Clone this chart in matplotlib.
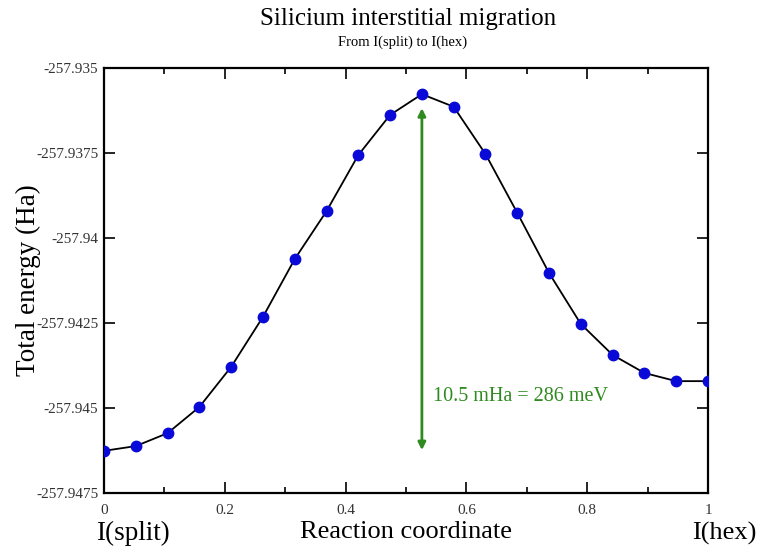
import numpy as np
import matplotlib
matplotlib.use("Agg")
from matplotlib import pyplot as plt
from matplotlib.ticker import MultipleLocator

# reaction path images, 20 points from I(split) to I(hex)
coord = np.arange(20) / 19.0
energy = [-257.94626, -257.94612, -257.94574, -257.94497, -257.94379,
          -257.94232, -257.94062, -257.93921, -257.93756, -257.93638,
          -257.93577, -257.93614, -257.93753, -257.93926, -257.94103,
          -257.94253, -257.94344, -257.94397, -257.94421, -257.94421]

yticks = [-257.9475, -257.945, -257.9425, -257.94, -257.9375, -257.935]
ytick_labels = ["-257.9475", "-257.945", "-257.9425", "-257.94", "-257.9375", "-257.935"]
xticks = [0, 0.2, 0.4, 0.6, 0.8, 1]
xtick_labels = ["0", "0.2", "0.4", "0.6", "0.8", "1"]

# barrier arrow
arrow_x = 10 / 19.0
arrow_top = -257.93618
arrow_bottom = -257.94624
barrier_text = "10.5 mHa = 286 meV"

plt.rcParams['font.family'] = ['Liberation Serif', 'DejaVu Serif']
green = '#2f8a1f'

fig = plt.figure(figsize=(7.61, 5.5), dpi=100)
ax = fig.add_axes([104/761, 57/550, 604/761, 425/550])

ax.plot(coord, energy, color='black', lw=1.3, marker='o', ms=7.5,
        mfc='#0a0ad8', mec='#0a0ad8', zorder=3)

ax.annotate('', xy=(arrow_x, arrow_bottom), xytext=(arrow_x, arrow_top),
            arrowprops=dict(arrowstyle='<|-|>', color=green, lw=2,
                            mutation_scale=11, shrinkA=0, shrinkB=0))
ax.text(0.545, -257.94465, barrier_text, color=green, fontsize=14.5,
        va='center', ha='left')

ax.set_xlim(0, 1)
ax.set_ylim(-257.9475, -257.935)
ax.set_xticks(xticks)
ax.set_xticklabels(xtick_labels)
ax.xaxis.set_minor_locator(MultipleLocator(0.1))
ax.set_yticks(yticks)
ax.set_yticklabels(ytick_labels)
ax.tick_params(which='both', direction='in', top=True, right=True,
               labelsize=11, width=1.2, pad=4, labelcolor='#333333')
ax.tick_params(axis='x', pad=8)
ax.tick_params(which='major', length=8)
ax.tick_params(which='minor', length=4)
for s in ax.spines.values():
    s.set_linewidth(1.6)

fig.text(28/761, 1 - 280/550, 'Total energy (Ha)', fontsize=19.5, rotation=90,
         ha='center', va='center')
fig.text(406/761, 1 - 532/550, 'Reaction coordinate', fontsize=19, ha='center', va='center')
fig.text(133/761, 1 - 533/550, 'I(split)', fontsize=19.5, ha='center', va='center')
fig.text(724/761, 1 - 533/550, 'I(hex)', fontsize=19, ha='center', va='center')
fig.text(408/761, 1 - 19/550, 'Silicium interstitial migration', fontsize=18,
         ha='center', va='center')
fig.text(403/761, 1 - 42/550, 'From I(split) to I(hex)', fontsize=10.5,
         ha='center', va='center')

plt.savefig('out.png', dpi=100)
